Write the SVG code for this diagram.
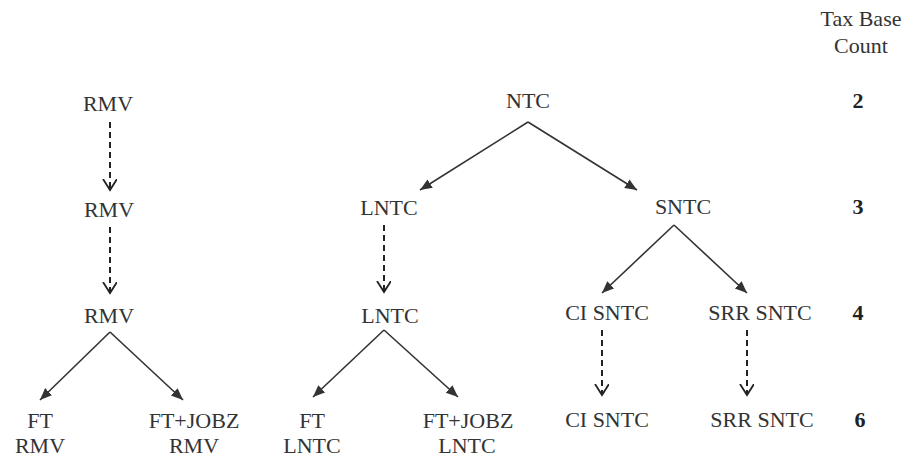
<svg xmlns="http://www.w3.org/2000/svg" width="902" height="459" viewBox="0 0 902 459">
<style>
text{font-family:"Liberation Serif","Times New Roman",serif;font-size:22px;fill:#333;text-anchor:middle}
.num{font-weight:bold;fill:#222}
.solid{stroke:#333;stroke-width:1.6;fill:none}
.dash{stroke:#222;stroke-width:2;fill:none;stroke-dasharray:6 4}
</style>
<defs>
<marker id="ah" markerUnits="userSpaceOnUse" markerWidth="14" markerHeight="12" refX="12" refY="5" orient="auto"><path d="M0,0 L12,5 L0,10 z" fill="#333"/></marker>
<marker id="vh" markerUnits="userSpaceOnUse" markerWidth="14" markerHeight="16" refX="11" refY="7" orient="auto"><path d="M0,0 L11,7 L0,14" fill="none" stroke="#222" stroke-width="1.8"/></marker>
</defs>
<rect width="902" height="459" fill="#fff"/>
<g id="connectors">
<line class="dash" x1="110" y1="122" x2="110" y2="190" marker-end="url(#vh)"/>
<line class="dash" x1="110" y1="227" x2="110" y2="293" marker-end="url(#vh)"/>
<line class="solid" x1="110" y1="332" x2="40" y2="400" marker-end="url(#ah)"/>
<line class="solid" x1="110" y1="332" x2="183" y2="400" marker-end="url(#ah)"/>
<line class="solid" x1="528" y1="122" x2="420" y2="190" marker-end="url(#ah)"/>
<line class="solid" x1="528" y1="122" x2="637" y2="190" marker-end="url(#ah)"/>
<line class="dash" x1="384" y1="225" x2="384" y2="292" marker-end="url(#vh)"/>
<line class="solid" x1="384" y1="330" x2="313" y2="397" marker-end="url(#ah)"/>
<line class="solid" x1="384" y1="330" x2="458" y2="397" marker-end="url(#ah)"/>
<line class="solid" x1="674" y1="225" x2="602" y2="293" marker-end="url(#ah)"/>
<line class="solid" x1="674" y1="225" x2="747" y2="293" marker-end="url(#ah)"/>
<line class="dash" x1="602" y1="330" x2="602" y2="395" marker-end="url(#vh)"/>
<line class="dash" x1="747" y1="330" x2="747" y2="395" marker-end="url(#vh)"/>
</g>
<g id="rmv1"><text x="108" y="111">RMV</text></g>
<g id="rmv2"><text x="109" y="217">RMV</text></g>
<g id="rmv3"><text x="109" y="323">RMV</text></g>
<g id="ft-rmv"><text x="40" y="428">FT</text><text x="40" y="453">RMV</text></g>
<g id="ftjobz-rmv"><text x="194" y="428">FT+JOBZ</text><text x="194" y="453">RMV</text></g>
<g id="ntc"><text x="528" y="108">NTC</text></g>
<g id="lntc1"><text x="389" y="215">LNTC</text></g>
<g id="lntc2"><text x="390" y="323">LNTC</text></g>
<g id="ft-lntc"><text x="312" y="428">FT</text><text x="312" y="453">LNTC</text></g>
<g id="ftjobz-lntc"><text x="468" y="428">FT+JOBZ</text><text x="467" y="453">LNTC</text></g>
<g id="sntc"><text x="683" y="214">SNTC</text></g>
<g id="ci-sntc1"><text x="607" y="320">CI SNTC</text></g>
<g id="srr-sntc1"><text x="760" y="320">SRR SNTC</text></g>
<g id="ci-sntc2"><text x="607" y="427" fill="#222">CI SNTC</text></g>
<g id="srr-sntc2"><text x="762" y="427">SRR SNTC</text></g>
<g id="tax-base-count">
<text x="861" y="26">Tax Base</text>
<text x="861" y="53">Count</text>
<text class="num" x="858" y="108">2</text>
<text class="num" x="858" y="214">3</text>
<text class="num" x="858" y="320">4</text>
<text class="num" x="860" y="427">6</text>
</g>
</svg>
